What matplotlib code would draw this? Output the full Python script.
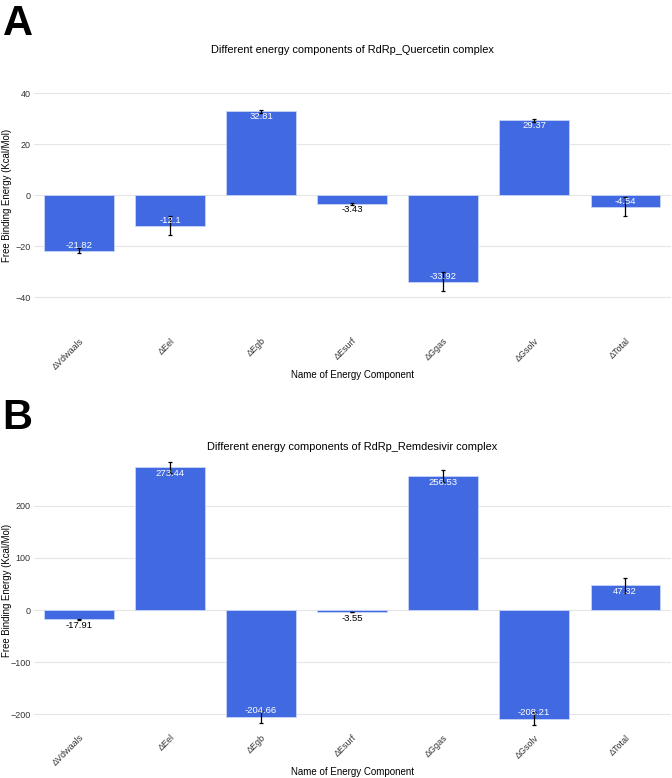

# Energy components of RdRp complexes (MM-GBSA style bar charts)
import matplotlib
matplotlib.use('Agg')
import matplotlib.pyplot as plt

# data
components = ['ΔVdwaals', 'ΔEel', 'ΔEgb', 'ΔEsurf', 'ΔGgas', 'ΔGsolv', 'ΔTotal']

quercetin_vals = [-21.82, -12.1, 32.81, -3.43, -33.92, 29.37, -4.54]
quercetin_err = [0.9, 3.7, 0.6, 0.3, 3.7, 0.6, 3.7]

remdesivir_vals = [-17.91, 273.44, -204.66, -3.55, 256.53, -208.21, 47.32]
remdesivir_err = [1.5, 11.0, 11.0, 0.5, 11.5, 12.0, 15.0]

plt.rcParams['font.family'] = ['Liberation Sans', 'DejaVu Sans']

bar_color = '#4169E1'
grid_color = '#e6e6e6'


def panel(ax, vals, errs, title, ylim, yticks, title_pad, tick_pad, xlab_y):
    '''draw one bar panel with error bars and value labels'''
    x = list(range(len(vals)))
    ax.bar(x, vals, width=0.76, color=bar_color, edgecolor='#c9d5f7',
           linewidth=0.6, zorder=2)
    ax.errorbar(x, vals, yerr=errs, fmt='none', ecolor='black',
                elinewidth=0.9, capsize=1.5, capthick=0.9, zorder=3)
    ax.set_xlim(-0.5, len(vals) - 0.5)
    ax.set_ylim(*ylim)
    ax.set_yticks(yticks)
    ax.set_xticks(x)
    ax.set_xticklabels(components, rotation=45, ha='right',
                       rotation_mode='anchor', fontsize=6.5, color='#333333')
    ax.tick_params(axis='both', length=0)
    ax.tick_params(axis='x', pad=tick_pad)
    ax.tick_params(axis='y', labelsize=6.5, labelcolor='#333333', pad=2)
    for s in ax.spines.values():
        s.set_visible(False)
    ax.yaxis.grid(True, color=grid_color, linewidth=0.8, zorder=0)
    ax.set_axisbelow(True)

    # value labels: inside for long bars, outside for short ones
    span = ylim[1] - ylim[0]
    for xi, v in zip(x, vals):
        inside = abs(v) / span > 0.045
        off = 0.024 * span
        if v >= 0:
            y = v - off if inside else v + off
        else:
            y = v + off if inside else v - off
        ax.text(xi, y, f'{v:g}', ha='center', va='center', fontsize=6.8,
                color='white' if inside else 'black', zorder=4)

    ax.set_title(title, fontsize=7.9, pad=title_pad)
    ax.set_ylabel('Free Binding Energy (Kcal/Mol)', fontsize=6.9)
    ax.yaxis.set_label_coords(-0.034, 0.5)
    ax.set_xlabel('Name of Energy Component', fontsize=7.0)
    ax.xaxis.set_label_coords(0.5, xlab_y)


fig = plt.figure(figsize=(6.72, 7.78), dpi=100)

ax_a = fig.add_axes([0.0499, 0.6018, 0.948, 0.295])
panel(ax_a, quercetin_vals, quercetin_err,
      'Different energy components of RdRp_Quercetin complex',
      (-45, 45), [-40, -20, 0, 20, 40], 19.3, 19, -0.262)

ax_b = fig.add_axes([0.0499, 0.0649, 0.948, 0.3523])
panel(ax_b, remdesivir_vals, remdesivir_err,
      'Different energy components of RdRp_Remdesivir complex',
      (-225, 300), [-200, -100, 0, 100, 200], 2.8, 4, -0.144)

fig.text(0.004, 0.995, 'A', fontsize=30, fontweight='bold', va='top',
         ha='left')
fig.text(0.004, 0.488, 'B', fontsize=30, fontweight='bold', va='top',
         ha='left')

fig.savefig('out.png', dpi=100)
